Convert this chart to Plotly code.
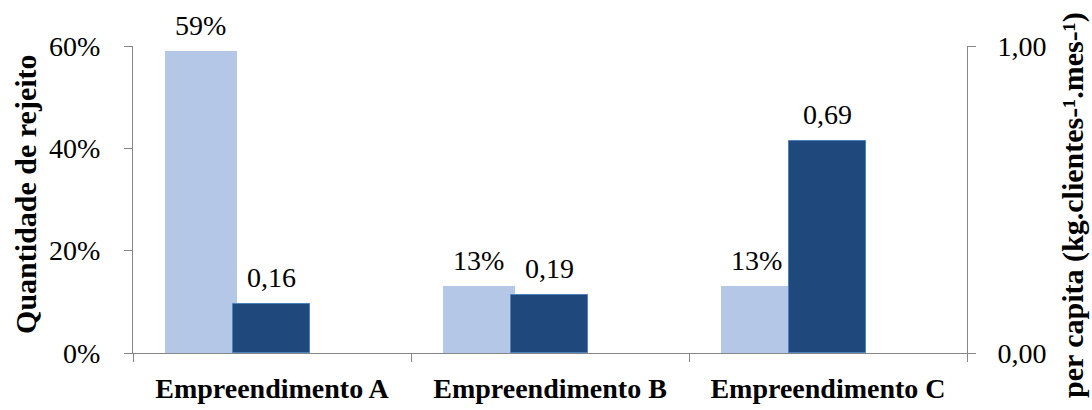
import plotly.graph_objects as go

# Data
categorias = ["Empreendimento A", "Empreendimento B", "Empreendimento C"]
rejeito_pct = [59, 13, 13]            # Quantidade de rejeito (%)
per_capita = [0.16, 0.19, 0.69]       # kg.clientes-1.mes-1
ticks_esq = [0, 20, 40, 60]
rotulos_esq = ["0%", "20%", "40%", "60%"]
ticks_dir = [0, 1]
rotulos_dir = ["0,00", "1,00"]

# Styles
COR_CLARA = "#b4c7e7"
COR_ESCURA = "#1f497d"
COR_BORDA = "#4f81bd"
COR_EIXO = "#868686"
FONTE = "Liberation Serif"
TAM = 28
TAM_TITULO = 30

# bar geometry in category units (category width = 1)
OFF_A, W_A = -0.385, 0.259
OFF_B, W_B = -0.14, 0.277

fig = go.Figure()
fig.add_trace(go.Bar(
    x=categorias, y=rejeito_pct, yaxis="y",
    offset=OFF_A, width=W_A,
    marker=dict(color=COR_CLARA, line=dict(width=0)),
    showlegend=False,
))
fig.add_trace(go.Bar(
    x=categorias, y=per_capita, yaxis="y2",
    offset=OFF_B, width=W_B,
    marker=dict(color=COR_ESCURA, line=dict(color=COR_BORDA, width=1)),
    showlegend=False,
))

anotacoes = []
for i, v in enumerate(rejeito_pct):
    anotacoes.append(dict(
        x=i + OFF_A + W_A / 2, y=v, xref="x", yref="y",
        text=f"{v}%", showarrow=False, yanchor="bottom", yshift=8,
        font=dict(family=FONTE, size=TAM, color="black"),
    ))
for i, v in enumerate(per_capita):
    anotacoes.append(dict(
        x=i + OFF_B + W_B / 2, y=v, xref="x", yref="y2",
        text=f"{v:.2f}".replace(".", ","), showarrow=False, yanchor="bottom", yshift=9,
        font=dict(family=FONTE, size=TAM, color="black"),
    ))

# axis titles
anotacoes.append(dict(
    x=0, xref="paper", xshift=-107, y=0.515, yref="paper",
    text="<b>Quantidade de rejeito</b>", textangle=-90, showarrow=False,
    xanchor="center", yanchor="middle",
    font=dict(family=FONTE, size=TAM_TITULO, color="black"),
))
anotacoes.append(dict(
    x=1, xref="paper", xshift=106, y=0.482, yref="paper",
    text="<b>per capita (kg.clientes-¹.mes-¹)</b>", textangle=-90, showarrow=False,
    xanchor="center", yanchor="middle",
    font=dict(family=FONTE, size=TAM_TITULO, color="black"),
))

fig.update_layout(
    width=1092, height=410,
    margin=dict(l=133, r=125, t=46, b=57, autoexpand=False),
    paper_bgcolor="white", plot_bgcolor="white",
    font=dict(family=FONTE, size=TAM, color="black"),
    bargap=0,
    xaxis=dict(
        type="category", range=[-0.5, 2.5], automargin=False,
        showline=True, linecolor=COR_EIXO, linewidth=1,
        ticks="outside", tickson="boundaries", ticklen=8, tickcolor=COR_EIXO,
        showgrid=False, zeroline=False,
        tickfont=dict(family=FONTE, size=TAM, color="black", weight="bold"),
        ticklabelstandoff=10,
    ),
    yaxis=dict(
        range=[0, 60], tickvals=ticks_esq, ticktext=rotulos_esq, automargin=False,
        showline=True, linecolor=COR_EIXO, linewidth=1,
        ticks="outside", ticklen=8, tickcolor=COR_EIXO,
        showgrid=False, zeroline=False,
        tickfont=dict(family=FONTE, size=TAM, color="black"),
        ticklabelstandoff=18,
    ),
    yaxis2=dict(
        overlaying="y", side="right",
        range=[0, 1], tickvals=ticks_dir, ticktext=rotulos_dir, automargin=False,
        showline=True, linecolor=COR_EIXO, linewidth=1,
        ticks="outside", ticklen=8, tickcolor=COR_EIXO,
        showgrid=False, zeroline=False,
        tickfont=dict(family=FONTE, size=TAM, color="black"),
        ticklabelstandoff=16,
    ),
    annotations=anotacoes,
)

fig.write_html("out.html")
